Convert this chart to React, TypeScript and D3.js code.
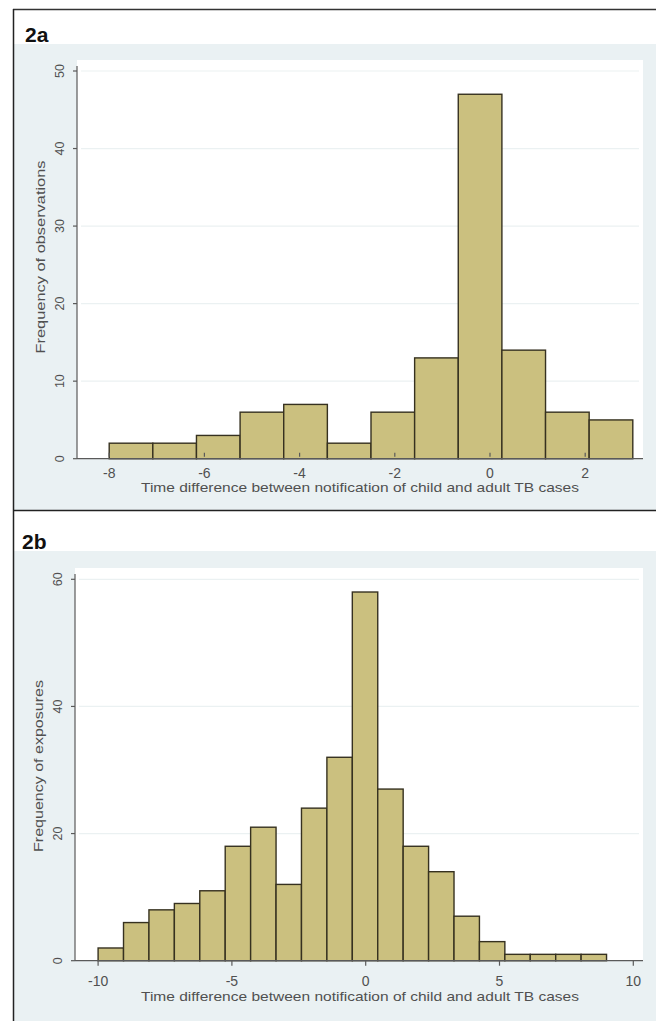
import React from "react";
import * as d3 from "d3";

// ---- data ----
const countsA = [2, 2, 3, 6, 7, 2, 6, 13, 47, 14, 6, 5];
const binStartA = -8;
const binEndA = 3;
const xTicksA = [-8, -6, -4, -2, 0, 2];
const yTicksA = [0, 10, 20, 30, 40, 50];

const countsB = [2, 6, 8, 9, 11, 18, 21, 12, 24, 32, 58, 27, 18, 14, 7, 3, 1, 1, 1, 1];
const binStartB = -10;
const binEndB = 9;
const xTicksB = [-10, -5, 0, 5, 10];
const yTicksB = [0, 20, 40, 60];

const xTitle = "Time difference between notification of child and adult TB cases";
const yTitleA = "Frequency of observations";
const yTitleB = "Frequency of exposures";

const FONT = "'Liberation Sans', Arial, Helvetica, sans-serif";
const BG = "#EAF1F3";
const BAR = "#CBC07F";
const BAR_STROKE = "#363120";
const TXT = "#505050";
const AXIS = "#5a5a5a";

type PanelProps = {
  label: string;
  counts: number[];
  binStart: number;
  binEnd: number;
  xTicks: number[];
  yTicks: number[];
  xDomain: [number, number];
  xRange: [number, number];
  yDomain: [number, number];
  yRange: [number, number];
  yTitle: string;
  yTitleLen: number;
  bgTop: number;
  bgBottom: number;
  plotTop: number;
  plotLeft: number;
  plotRight: number;
  labelX: number;
  labelY: number;
  tickUp: boolean;
  xLabelY: number;
  xTitleY: number;
  yTitleY: number;
};

function Panel(p: PanelProps) {
  const x = d3.scaleLinear().domain(p.xDomain).range(p.xRange);
  const y = d3.scaleLinear().domain(p.yDomain).range(p.yRange);
  const w = (p.binEnd - p.binStart) / p.counts.length;
  const y0 = y(0);
  return (
    <g>
      <rect x={14} y={p.bgTop} width={642} height={p.bgBottom - p.bgTop} fill={BG} />
      <rect
        x={p.plotLeft}
        y={p.plotTop}
        width={p.plotRight - p.plotLeft}
        height={y0 - p.plotTop}
        fill="#ffffff"
      />
      <text
        x={p.labelX}
        y={p.labelY}
        fontFamily={FONT}
        fontWeight="bold"
        fontSize={21}
        fill="#111"
      >
        {p.label}
      </text>
      {/* grid */}
      {p.yTicks
        .filter((t) => t !== 0)
        .map((t) => (
          <line
            key={"g" + t}
            x1={p.plotLeft + 4}
            x2={p.plotRight - 4}
            y1={y(t)}
            y2={y(t)}
            stroke="#EBF1F2"
            strokeWidth={1.2}
          />
        ))}
      {/* bars */}
      {p.counts.map((c, i) => {
        const a = p.binStart + i * w;
        const b = a + w;
        return (
          <rect
            key={"b" + i}
            x={x(a)}
            y={y(c)}
            width={x(b) - x(a)}
            height={y0 - y(c)}
            fill={BAR}
            stroke={BAR_STROKE}
            strokeWidth={1.4}
          />
        );
      })}
      {/* y axis */}
      <line x1={p.plotLeft} x2={p.plotLeft} y1={p.plotTop + 6} y2={y0} stroke={AXIS} strokeWidth={1.2} />
      {p.yTicks.map((t) => (
        <g key={"y" + t}>
          <line x1={p.plotLeft - 4} x2={p.plotLeft} y1={y(t)} y2={y(t)} stroke={AXIS} strokeWidth={1.2} />
          <text
            transform={`translate(${p.plotLeft - 13},${y(t)}) rotate(-90)`}
            textAnchor="middle"
            fontFamily={FONT}
            fontSize={12.5}
            fill={TXT}
          >
            {t}
          </text>
        </g>
      ))}
      <text
        transform={`translate(${p.plotLeft - 32},${p.yTitleY}) rotate(-90)`}
        textAnchor="middle"
        fontFamily={FONT}
        fontSize={13.5}
        fill={TXT}
        textLength={p.yTitleLen}
        lengthAdjust="spacingAndGlyphs"
      >
        {p.yTitle}
      </text>
      {/* x axis */}
      <line x1={p.plotLeft} x2={p.plotRight} y1={y0} y2={y0} stroke={AXIS} strokeWidth={1.2} />
      {p.xTicks.map((t) => (
        <g key={"x" + t}>
          <line
            x1={x(t)}
            x2={x(t)}
            y1={p.tickUp ? y0 - 6 : y0}
            y2={p.tickUp ? y0 - 2 : y0 + 5}
            stroke={AXIS}
            strokeWidth={1.2}
          />
          <text
            x={x(t)}
            y={p.xLabelY}
            textAnchor="middle"
            fontFamily={FONT}
            fontSize={14}
            fill={TXT}
          >
            {t}
          </text>
        </g>
      ))}
      <text
        x={360}
        y={p.xTitleY}
        textAnchor="middle"
        fontFamily={FONT}
        fontSize={13.5}
        fill={TXT}
        textLength={438}
        lengthAdjust="spacingAndGlyphs"
      >
        {xTitle}
      </text>
    </g>
  );
}

export default function App() {
  return (
    <div style={{ position: "absolute", left: 0, top: 0 }}>
      <svg width={656} height={1021} style={{ display: "block", background: "#fff" }}>
        <Panel
          label="2a"
          counts={countsA}
          binStart={binStartA}
          binEnd={binEndA}
          xTicks={xTicksA}
          yTicks={yTicksA}
          xDomain={[-8, 2]}
          xRange={[109.2, 585.2]}
          yDomain={[0, 50]}
          yRange={[458.7, 71]}
          yTitle={yTitleA}
          yTitleLen={193}
          bgTop={44}
          bgBottom={510}
          plotTop={60}
          plotLeft={77}
          plotRight={643}
          labelX={25}
          labelY={42}
          tickUp={true}
          xLabelY={478}
          xTitleY={492}
          yTitleY={257}
        />
        <Panel
          label="2b"
          counts={countsB}
          binStart={binStartB}
          binEnd={binEndB}
          xTicks={xTicksB}
          yTicks={yTicksB}
          xDomain={[-10, 10]}
          xRange={[98.1, 633.3]}
          yDomain={[0, 60]}
          yRange={[960.7, 579.3]}
          yTitle={yTitleB}
          yTitleLen={172}
          bgTop={551}
          bgBottom={1021}
          plotTop={568}
          plotLeft={75}
          plotRight={643}
          labelX={22}
          labelY={549}
          tickUp={false}
          xLabelY={986}
          xTitleY={1001}
          yTitleY={766}
        />
        {/* frame */}
        <line x1={13} x2={656} y1={9.5} y2={9.5} stroke="#333" strokeWidth={1.5} />
        <line x1={13.5} x2={13.5} y1={9} y2={1021} stroke="#222" strokeWidth={1.5} />
        <line x1={13} x2={656} y1={510.5} y2={510.5} stroke="#222" strokeWidth={1.5} />
      </svg>
    </div>
  );
}
